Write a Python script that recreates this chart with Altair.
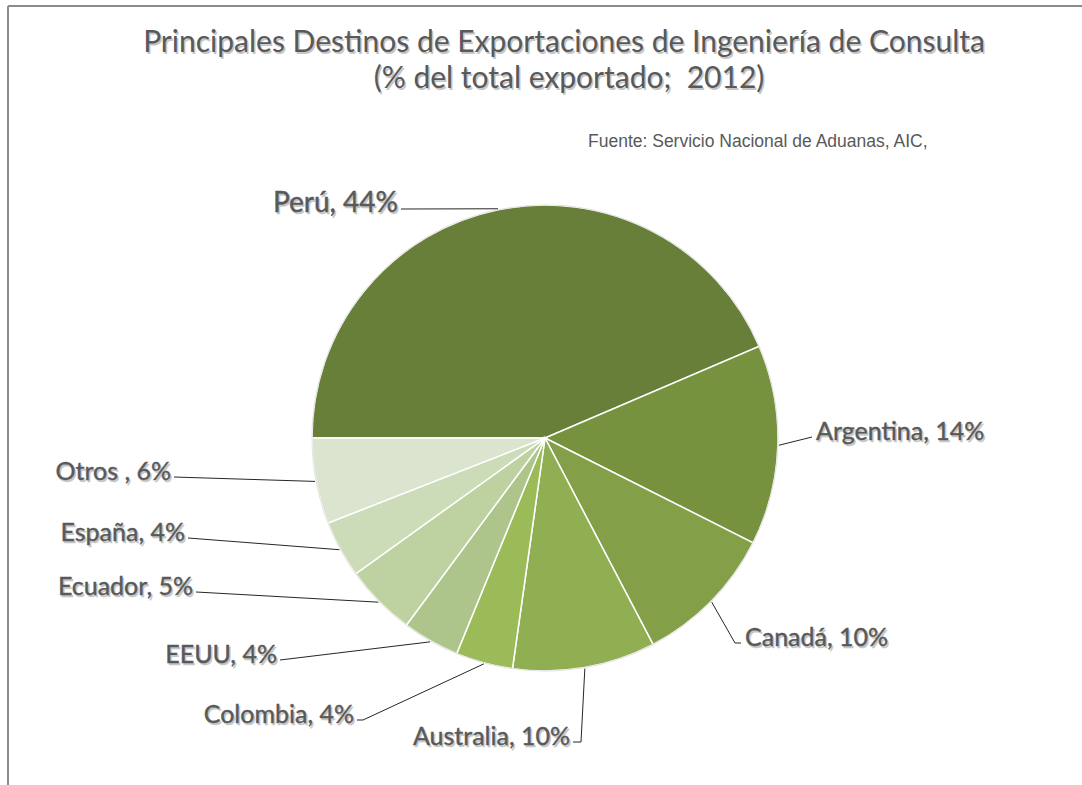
import math
import altair as alt
import pandas as pd

# ---------------- data ----------------
countries = ["Perú", "Argentina", "Canadá", "Australia", "Colombia",
             "EEUU", "Ecuador", "España", "Otros "]
shares = [44, 14, 10, 10, 4, 4, 5, 4, 6]
colors = ["#687f3a", "#77923f", "#83a048", "#90ae52", "#9bbb59",
          "#adc58a", "#bed2a1", "#ccdbb8", "#dae4ce"]
title_lines = ["Principales Destinos de Exportaciones de Ingeniería de Consulta",
               "(% del total exportado;\u00a0 2012)"]
source_text = "Fuente: Servicio Nacional de Aduanas, AIC,"

# ---------------- layout (pixels) ----------------
W, H = 1082, 785
CX, CY, R = 545, 438, 233
START = 1.5 * math.pi  # pie starts at 9 o'clock, clockwise
label_anchor_x = [401, 812, 741, 573, 357, 280, 196, 188, 174]
label_anchor_y = [209, 437, 643, 742, 720, 660, 592, 538, 477]
label_align = ["right", "left", "left", "right", "right", "right", "right", "right", "right"]
elbow_dx = [0, 0, -6, 8, 6, 0, 0, 0, 0]
label_size = [28, 25, 25, 25, 25, 25, 25, 25, 25]
FONT = "Lato"
TXT = "#595959"

total = sum(shares)
pie_df = pd.DataFrame({"country": countries, "share": shares, "idx": range(len(countries))})

# leader lines: start at slice mid-angle on the rim, end at the label anchor
lead_rows, lab_rows = [], []
cum = 0.0
for i, (c, v) in enumerate(zip(countries, shares)):
    mid = START + 2 * math.pi * (cum + v / 2) / total
    cum += v
    ex = CX + (R + 1) * math.sin(mid)
    ey = CY - (R + 1) * math.cos(mid)
    ax, ay = label_anchor_x[i], label_anchor_y[i]
    pts = [(ex, ey), (ax + elbow_dx[i], ay), (ax, ay)]
    for k, (px, py) in enumerate(pts):
        lead_rows.append({"country": c, "k": k, "px": px, "py": py})
    off = -3 if label_align[i] == "right" else 4
    lab_rows.append({"country": c, "label": f"{c}, {v}%", "tx": ax + off, "ty": ay + 3,
                     "align": label_align[i], "size": label_size[i]})
lead_df = pd.DataFrame(lead_rows)
lab_df = pd.DataFrame(lab_rows)

xs = alt.Scale(domain=[0, W], range=[0, W], nice=False, zero=False)
ys = alt.Scale(domain=[0, H], range=[0, H], nice=False, zero=False)

pie = alt.Chart(pie_df).mark_arc(radius=R, stroke="#ffffff", strokeWidth=1.5).encode(
    theta=alt.Theta("share:Q", stack=True,
                    scale=alt.Scale(range=[START, START + 2 * math.pi])),
    order=alt.Order("idx:Q"),
    color=alt.Color("country:N", scale=alt.Scale(domain=countries, range=colors), legend=None),
    x=alt.value(CX), y=alt.value(CY),
)
rim = alt.Chart(pd.DataFrame({"a": [1]})).mark_arc(
    radius=R + 0.5, innerRadius=R - 0.5, fill="#d9d9d9", opacity=0.8
).encode(theta=alt.value(2 * math.pi), x=alt.value(CX), y=alt.value(CY))

leaders = alt.Chart(lead_df).mark_line(color="#262626", strokeWidth=1).encode(
    x=alt.X("px:Q", scale=xs, axis=None),
    y=alt.Y("py:Q", scale=ys, axis=None),
    detail="country:N",
    order="k:Q",
)

def label_layer(align, shadow):
    d = lab_df[lab_df["align"] == align]
    base = alt.Chart(d).mark_text(
        align=align, baseline="alphabetic", font=FONT,
        color="#b4b4b4" if shadow else TXT,
        opacity=0.75 if shadow else 1.0,
        dx=1.5 if shadow else 0, dy=1.5 if shadow else 0,
        stroke=TXT if not shadow else "#b4b4b4", strokeWidth=0.4,
    ).encode(
        x=alt.X("tx:Q", scale=xs, axis=None),
        y=alt.Y("ty:Q", scale=ys, axis=None),
        text="label:N",
        size=alt.Size("size:Q", scale=None, legend=None),
    )
    return base

one = pd.DataFrame({"a": [0]})

def free_text(txt, x, y, size, font, shadow=False, align="center"):
    return alt.Chart(one).mark_text(
        text=txt, align=align, baseline="alphabetic", font=font, fontSize=size,
        color="#b4b4b4" if shadow else TXT, opacity=0.75 if shadow else 1.0,
    ).encode(x=alt.value(x + (1.5 if shadow else 0)), y=alt.value(y + (1.5 if shadow else 0)))

title_layers = []
for shadow in (True, False):
    title_layers.append(free_text(title_lines[0], 564, 52, 30, FONT, shadow))
    title_layers.append(free_text(title_lines[1], 569, 88, 30, FONT, shadow))

source = alt.Chart(one).mark_text(
    text=source_text, align="left", baseline="alphabetic", font="Liberation Sans",
    fontSize=17.5, color=TXT,
).encode(x=alt.value(588), y=alt.value(147))

top_rule = alt.Chart(one).mark_rule(color="#8c8c8c", strokeWidth=2).encode(
    x=alt.value(8), x2=alt.value(W), y=alt.value(6))
left_rule = alt.Chart(one).mark_rule(color="#8c8c8c", strokeWidth=2).encode(
    x=alt.value(8), y=alt.value(6), y2=alt.value(H))

chart = alt.layer(
    top_rule, left_rule, pie, rim, leaders,
    label_layer("right", True), label_layer("left", True),
    label_layer("right", False), label_layer("left", False),
    *title_layers, source,
).resolve_scale(x="shared", y="shared").properties(
    width=W, height=H, padding=0, autosize=alt.AutoSizeParams(type="none"),
    background="#ffffff",
).configure_view(stroke=None)

chart.save("out.html", embed_options={"renderer": "svg", "actions": False})
